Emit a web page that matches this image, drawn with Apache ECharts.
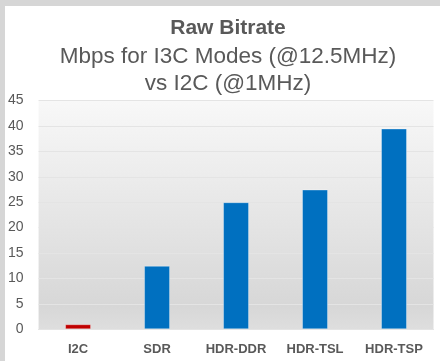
<!DOCTYPE html>
<html>
<head>
<meta charset="utf-8">
<script src="https://cdn.jsdelivr.net/npm/echarts@6/dist/echarts.min.js"></script>
<style>
  html, body { margin: 0; padding: 0; background: #fff; }
  #frame {
    width: 440px; height: 361px; box-sizing: border-box;
    border-top: 6px solid #d6d6d6; border-left: 5px solid #d6d6d6;
    background: #fff;
  }
  #chart { width: 435px; height: 355px; }
</style>
</head>
<body>
<div id="frame"><div id="chart"></div></div>
<script>
// raw bitrate per bus mode, Mbps
const modes = ['I2C', 'SDR', 'HDR-DDR', 'HDR-TSL', 'HDR-TSP'];
const bitrate = [1, 12.5, 25, 27.5, 39.5];
const barColors = ['#c00000', '#0070c0', '#0070c0', '#0070c0', '#0070c0'];
const titleLines = ['Raw Bitrate', 'Mbps for I3C Modes (@12.5MHz)', 'vs I2C (@1MHz)'];

const chart = echarts.init(document.getElementById('chart'));
const txt = '#595959';
const font = '"Liberation Sans", Arial, sans-serif';

const option = {
  animation: false,
  title: [
    { text: titleLines[0], left: 218, top: 7, textAlign: 'center',
      textStyle: { fontFamily: font, fontSize: 21, fontWeight: 'bold', color: txt } },
    { text: titleLines[1], left: 218, top: 34, textAlign: 'center',
      textStyle: { fontFamily: font, fontSize: 22.5, fontWeight: 'normal', color: txt } },
    { text: titleLines[2], left: 218, top: 61, textAlign: 'center',
      textStyle: { fontFamily: font, fontSize: 22.5, fontWeight: 'normal', color: txt } }
  ],
  grid: {
    left: 33, right: 6.5, top: 94.5, bottom: 31.7,
    show: true,
    borderWidth: 0,
    backgroundColor: {
      type: 'linear', x: 0, y: 0, x2: 0, y2: 1,
      colorStops: [
        { offset: 0, color: '#f8f8f8' },
        { offset: 0.9, color: '#d7d7d7' },
        { offset: 1, color: '#dedede' }
      ]
    }
  },
  xAxis: {
    type: 'category',
    data: modes,
    axisTick: { show: false },
    axisLine: { lineStyle: { color: '#e4e4e4', width: 1 } },
    axisLabel: { color: txt, fontFamily: font, fontSize: 13, fontWeight: 'bold', margin: 14 }
  },
  yAxis: {
    type: 'value',
    min: 0, max: 45, interval: 5,
    axisLine: { show: false },
    axisTick: { show: false },
    axisLabel: { color: txt, fontFamily: font, fontSize: 14, margin: 15 },
    splitLine: { lineStyle: { color: '#e4e4e4', width: 1 } }
  },
  series: [{
    type: 'bar',
    data: bitrate.map((v, i) => ({ value: v, itemStyle: { color: barColors[i] } })),
    barWidth: 26,
    itemStyle: { borderColor: 'rgba(255,255,255,0.35)', borderWidth: 1 }
  }]
};
chart.setOption(option);
</script>
</body>
</html>
